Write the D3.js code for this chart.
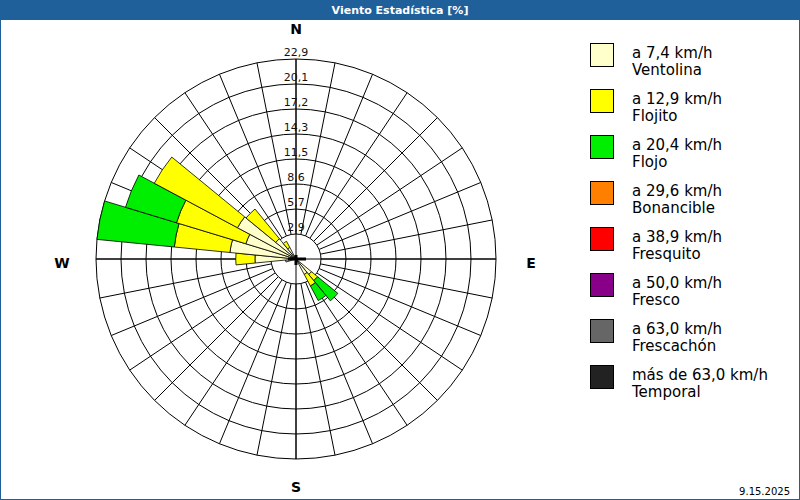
<!DOCTYPE html>
<html><head><meta charset="utf-8">
<script src="https://cdn.jsdelivr.net/npm/d3@7"></script>
<style>body{margin:0;background:#fff}</style>
</head><body>
<script>
// wind rose data: direction (deg) and % per speed class
var directions = [135, 146.25, 258.75, 270, 281.25, 292.5, 303.75, 315, 326.25];
var ventolina  = [2.3, 2.0, 1.2, 4.7, 7.6, 6.0, 7.6, 3.0, 1.5];
var flojito    = [0.9, 1.5, 0, 2.2, 6.4, 8.3, 10.8, 4.4, 0.8];
var flojo      = [3.0, 1.9, 0, 0, 8.9, 6.1, 0, 0, 0];
var ringLabels = ["2,9","5,7","8,6","11,5","14,3","17,2","20,1","22,9"];
var legendTop  = ["a 7,4 km/h","a 12,9 km/h","a 20,4 km/h","a 29,6 km/h","a 38,9 km/h","a 50,0 km/h","a 63,0 km/h","más de 63,0 km/h"];
var legendBot  = ["Ventolina","Flojito","Flojo","Bonancible","Fresquito","Fresco","Frescachón","Temporal"];
var colors     = ["#ffffcc","#ffff00","#00ee00","#ff8000","#ff0000","#880088","#666666","#222222"];

var w = 800, h = 500, cx = 296, cy = 259;
var svg = d3.select('body').append('svg').attr('width', w).attr('height', h)
  .style('font-family', 'Tahoma, "DejaVu Sans", sans-serif');

svg.append('rect').attr('x',0.5).attr('y',0.5).attr('width',w-1).attr('height',h-1)
  .attr('fill','#fff').attr('stroke','#1f5f9a');
svg.append('rect').attr('x',0).attr('y',0).attr('width',w).attr('height',20).attr('fill','#1f5f9a');
svg.append('text').attr('x',w/2).attr('y',14).attr('text-anchor','middle')
  .attr('fill','#fff').attr('font-size',11).attr('font-weight','bold').text('Viento Estadística [%]');

var r = d3.scaleLinear().domain([0, 22.9]).range([0, 200]);
var g = svg.append('g').attr('transform', 'translate(' + cx + ',' + cy + ')');

// spokes
d3.range(32).forEach(function(i){
  var a = i * Math.PI * 2 / 32;
  g.append('line').attr('x1', 25*Math.sin(a)).attr('y1', -25*Math.cos(a))
    .attr('x2', 200*Math.sin(a)).attr('y2', -200*Math.cos(a)).attr('stroke','#000');
});
// rings
ringLabels.forEach(function(l, i){
  g.append('circle').attr('r', 25*(i+1)).attr('fill', i==0 ? '#fff' : 'none').attr('stroke','#000');
});
g.append('line').attr('x1',-200).attr('x2',200).attr('stroke','#000');
g.append('line').attr('y1',-200).attr('y2',200).attr('stroke','#000');

// bars
var arc = d3.arc();
var half = Math.PI / 32;
directions.forEach(function(d, i){
  var a = d * Math.PI / 180;
  var c0 = 0;
  [ventolina[i], flojito[i], flojo[i]].forEach(function(v, k){
    if (v <= 0) return;
    g.append('path').attr('d', arc({innerRadius: r(c0), outerRadius: r(c0+v), startAngle: a-half, endAngle: a+half}))
      .attr('fill', colors[k]).attr('stroke','#000').attr('stroke-width',0.8);
    c0 += v;
  });
});
g.append('line').attr('x1',-8).attr('x2',10).attr('stroke','#000').attr('stroke-width',3);
g.append('line').attr('y1',-4).attr('y2',6).attr('stroke','#000').attr('stroke-width',3);

ringLabels.forEach(function(l, i){
  g.append('text').attr('x',0).attr('y',-r(22.9*(i+1)/8)-3).attr('text-anchor','middle')
    .attr('font-size',11).attr('fill','#111').text(l);
});
var comp = [["N",0,-225],["S",0,233],["W",-234,9],["E",235,9]];
comp.forEach(function(c){
  g.append('text').attr('x',c[1]).attr('y',c[2]).attr('text-anchor','middle')
    .attr('font-size',14).attr('font-weight','bold').text(c[0]);
});

// legend
legendTop.forEach(function(t, i){
  var y = 43 + i*46;
  svg.append('rect').attr('x',590.5).attr('y',y+0.5).attr('width',23).attr('height',23)
    .attr('fill',colors[i]).attr('stroke','#000');
  svg.append('text').attr('x',632).attr('y',y+15).attr('font-size',15).text(t);
  svg.append('text').attr('x',632).attr('y',y+32).attr('font-size',15).text(legendBot[i]);
});
svg.append('text').attr('x',790).attr('y',495).attr('text-anchor','end').attr('font-size',10).text('9.15.2025');
</script>
</body></html>
